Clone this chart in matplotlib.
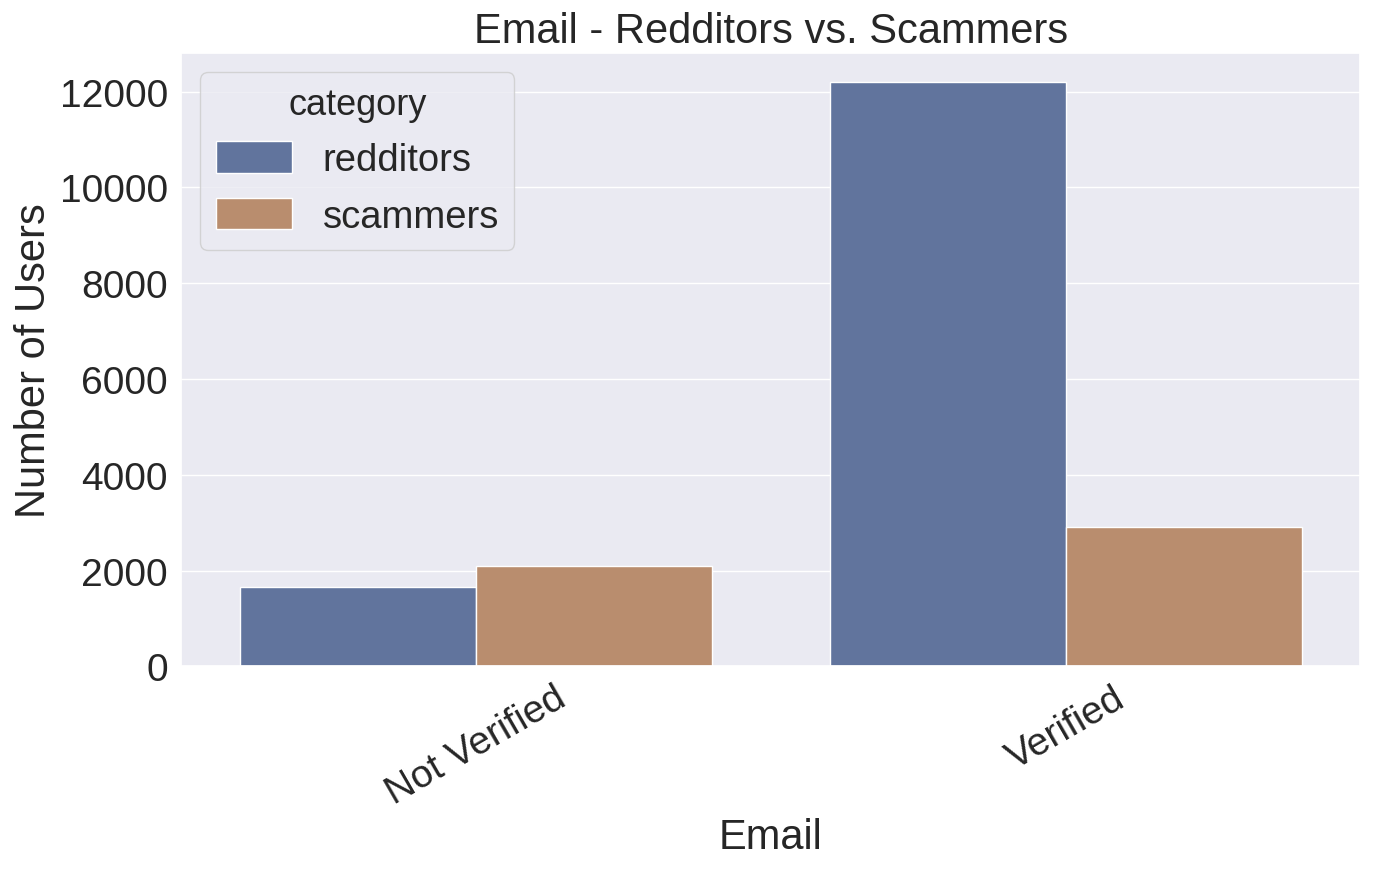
import pandas as pd
import matplotlib
matplotlib.use("Agg")
import matplotlib.pyplot as plt
import seaborn as sns

# --- DATI ---
email_status = ["Not Verified", "Verified"]
redditors = [1663, 12200]
scammers = [2105, 2905]

df = pd.DataFrame({
    "Email": email_status * 2,
    "count": redditors + scammers,
    "category": ["redditors"] * 2 + ["scammers"] * 2,
})

sns.set_theme(style="darkgrid", font_scale=2.4)
plt.rcParams["font.family"] = ["Arial", "Liberation Sans", "DejaVu Sans"]

colori = {"redditors": "#61749D", "scammers": "#B98D6E"}

fig, ax = plt.subplots(figsize=(13.84, 8.70), dpi=100)
sns.barplot(data=df, x="Email", y="count", hue="category", ax=ax,
            palette=colori, saturation=1)

ax.set_title("Email - Redditors vs. Scammers", fontsize=30, pad=8)
ax.set_xlabel("Email", fontsize=30)
ax.set_ylabel("Number of Users", fontsize=30)
ax.tick_params(axis="both", labelsize=28)
plt.setp(ax.get_xticklabels(), rotation=30)

leg = ax.legend(title="category", loc="upper left", fontsize=27.5,
                title_fontsize=26, handlelength=2.0, handleheight=0.9,
                borderaxespad=0.5)

fig.subplots_adjust(left=0.131, right=0.983, bottom=0.233, top=0.938)
fig.savefig("out.png", dpi=100)
